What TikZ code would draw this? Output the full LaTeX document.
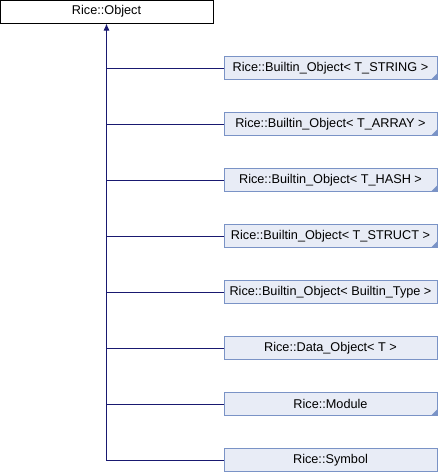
\documentclass[tikz,border=0pt]{standalone}
\usepackage{fontspec}
\setmainfont{Liberation Sans}
\usepackage{tikz}
\usetikzlibrary{arrows.meta}
\definecolor{edgeblue}{HTML}{191970}
\definecolor{boxfill}{HTML}{E8ECF6}
\definecolor{boxline}{HTML}{7A93C6}

\begin{document}
\begin{tikzpicture}[x=1pt, y=1pt, node distance=56pt, font=\fontsize{12.7}{14}\selectfont,
		base/.style={draw=black, fill=white, line width=1pt, minimum width=213pt, minimum height=23pt, inner sep=0pt},
		derived/.style={draw=boxline, fill=boxfill, line width=1pt, minimum width=213pt, minimum height=23pt, inner sep=0pt},
		linked/.style={derived, path picture={\fill[boxline] (path picture bounding box.south east) -- ++(-6pt,0) -- ++(6pt,6pt) -- cycle;}},
		edge/.style={draw=edgeblue, line width=1pt}]
		\useasboundingbox (0,0) rectangle (438,-472);
		\node[base] (object) at (106.5,-11.5) {Rice::Object};
		\node[linked] (tstring) at (330.5,-68) {Rice::Builtin\_Object< T\_STRING >};
		\node[linked, below of=tstring] (tarray) {Rice::Builtin\_Object< T\_ARRAY >};
		\node[linked, below of=tarray] (thash) {Rice::Builtin\_Object< T\_HASH >};
		\node[linked, below of=thash] (tstruct) {Rice::Builtin\_Object< T\_STRUCT >};
		\node[derived, below of=tstruct] (btype) {Rice::Builtin\_Object< Builtin\_Type >};
		\node[derived, below of=btype] (dataobj) {Rice::Data\_Object< T >};
		\node[linked, below of=dataobj] (module) {Rice::Module};
		\node[derived, below of=module] (symbol) {Rice::Symbol};
		
		\draw[edge, {Latex[length=7pt, width=6pt]}-] (object.south) -- (object.south |- symbol.west) -- (symbol.west);
		\draw[edge] (object.south |- tstring.west) -- (tstring.west);
		\draw[edge] (object.south |- tarray.west) -- (tarray.west);
		\draw[edge] (object.south |- thash.west) -- (thash.west);
		\draw[edge] (object.south |- tstruct.west) -- (tstruct.west);
		\draw[edge] (object.south |- btype.west) -- (btype.west);
		\draw[edge] (object.south |- dataobj.west) -- (dataobj.west);
		\draw[edge] (object.south |- module.west) -- (module.west);
	\end{tikzpicture}
\end{document}
